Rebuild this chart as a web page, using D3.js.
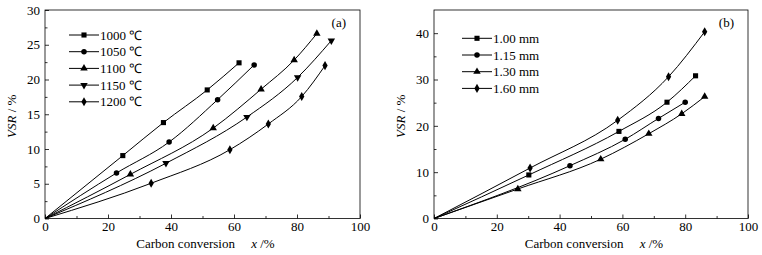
<!DOCTYPE html>
<html>
<head>
<meta charset="utf-8">
<script src="https://cdn.jsdelivr.net/npm/d3@7"></script>
<style>
  body { margin: 0; background: #fff; }
  svg text { font-family: "Liberation Serif", serif; fill: #000; }
</style>
</head>
<body>
<svg id="chart" width="762" height="255"></svg>
<script>
// Panel (a): temperature series, [carbon conversion %, VSR %]
const tempLabels = ["1000 \u2103", "1050 \u2103", "1100 \u2103", "1150 \u2103", "1200 \u2103"];
const temp1000 = [[0, 0], [24.7, 9.05], [37.6, 13.8], [51.5, 18.5], [61.6, 22.4]];
const temp1050 = [[0, 0], [22.7, 6.55], [39.4, 11.0], [54.8, 17.1], [66.4, 22.1]];
const temp1100 = [[0, 0], [27.1, 6.35], [53.4, 13.0], [68.6, 18.6], [79.1, 22.8], [86.3, 26.6]];
const temp1150 = [[0, 0], [38.4, 7.95], [64.1, 14.6], [80.2, 20.3], [90.9, 25.6]];
const temp1200 = [[0, 0], [33.7, 5.07], [58.7, 9.9], [70.9, 13.6], [81.5, 17.55], [88.9, 22.0]];

// Panel (b): particle size series
const sizeLabels = ["1.00 mm", "1.15 mm", "1.30 mm", "1.60 mm"];
const size100 = [[0, 0], [30.2, 9.4], [58.9, 18.8], [74.2, 25.1], [83.3, 30.8]];
const size115 = [[0, 0], [43.3, 11.4], [60.9, 17.1], [71.5, 21.6], [80.0, 25.1]];
const size130 = [[0, 0], [26.7, 6.37], [53.1, 12.8], [68.4, 18.3], [78.9, 22.6], [86.2, 26.3]];
const size160 = [[0, 0], [30.6, 10.9], [58.5, 21.2], [74.7, 30.6], [86.2, 40.3]];

const xTicks = [0, 20, 40, 60, 80, 100];
const yTicksA = [0, 5, 10, 15, 20, 25, 30];
const yTicksB = [0, 10, 20, 30, 40];

const svg = d3.select("#chart");

const symbols = {
  square: d3.symbol().type(d3.symbolSquare).size(26),
  circle: d3.symbol().type(d3.symbolCircle).size(24),
  up: d3.symbol().type(d3.symbolTriangle).size(24),
  down: d3.symbol().type(d3.symbolTriangle).size(24),
  diamond: d3.symbol().type(d3.symbolDiamond).size(24)
};

function marker(g, shape, x, y) {
  g.append("path")
    .attr("d", symbols[shape]())
    .attr("transform", `translate(${x},${y})` + (shape === "down" ? " rotate(180)" : ""))
    .attr("fill", "#000");
}

function drawPanel(cfg) {
  const x = d3.scaleLinear().domain([0, 100]).range([cfg.left, cfg.right]);
  const y = d3.scaleLinear().domain([0, cfg.yMax]).range([cfg.bottom, cfg.top]);
  const g = svg.append("g");

  // frame
  g.append("rect")
    .attr("x", cfg.left).attr("y", cfg.top)
    .attr("width", cfg.right - cfg.left).attr("height", cfg.bottom - cfg.top)
    .attr("fill", "none").attr("stroke", "#000").attr("stroke-width", 0.8);

  // x axis, ticks inward
  g.append("g").attr("transform", `translate(0,${cfg.bottom})`)
    .call(d3.axisBottom(x).tickValues(xTicks).tickSize(-4).tickPadding(3));
  g.append("g").attr("transform", `translate(0,${cfg.bottom})`)
    .call(d3.axisBottom(x).tickValues(d3.range(10, 100, 20)).tickSize(-2.5).tickFormat(""));

  g.append("g").attr("transform", `translate(${cfg.left},0)`)
    .call(d3.axisLeft(y).tickValues(cfg.yTicks).tickSize(-4).tickPadding(5));
  g.append("g").attr("transform", `translate(${cfg.left},0)`)
    .call(d3.axisLeft(y).tickValues(cfg.yMinor).tickSize(-2.5).tickFormat(""));

  g.selectAll(".domain").remove();
  g.selectAll(".tick line").attr("stroke", "#000").attr("stroke-width", 0.8);
  g.selectAll(".tick text").attr("font-size", 13).attr("font-family", null);

  // series
  const line = d3.line().x(d => x(d[0])).y(d => y(d[1])).curve(d3.curveMonotoneX);
  cfg.series.forEach((s, i) => {
    g.append("path").datum(s.data).attr("d", line)
      .attr("fill", "none").attr("stroke", "#000").attr("stroke-width", 1);
    s.data.slice(1).forEach(d => marker(g, s.shape, x(d[0]), y(d[1])));

    // legend
    const ly = cfg.legendY + i * 16.7;
    g.append("line").attr("x1", cfg.legendX).attr("x2", cfg.legendX + 30)
      .attr("y1", ly).attr("y2", ly).attr("stroke", "#000").attr("stroke-width", 1);
    marker(g, s.shape, cfg.legendX + 15, ly);
    g.append("text").attr("x", cfg.legendX + 31).attr("y", ly + 4.5)
      .attr("font-size", 13).text(cfg.labels[i]);
  });

  g.append("text").attr("x", cfg.right - 14).attr("y", cfg.top + 17)
    .attr("text-anchor", "end").attr("font-size", 13).text(cfg.tag);

  // axis titles
  const xt = g.append("text").attr("x", (cfg.left + cfg.right) / 2 + 3).attr("y", cfg.bottom + 29.5)
    .attr("text-anchor", "middle").attr("font-size", 13).attr("xml:space", "preserve");
  xt.append("tspan").text("Carbon conversion     ");
  xt.append("tspan").attr("font-style", "italic").text("x");
  xt.append("tspan").text(" /%");

  const yt = g.append("text")
    .attr("transform", `translate(${cfg.left - 29},${(cfg.top + cfg.bottom) / 2 + 2}) rotate(-90)`)
    .attr("text-anchor", "middle").attr("font-size", 13);
  yt.append("tspan").attr("font-style", "italic").text("VSR");
  yt.append("tspan").text(" / %");
}

drawPanel({
  left: 45, right: 360, top: 10, bottom: 218.5, yMax: 30,
  yTicks: yTicksA, yMinor: d3.range(2.5, 30, 5),
  legendX: 69, legendY: 35, labels: tempLabels, tag: "(a)",
  series: [
    { data: temp1000, shape: "square" },
    { data: temp1050, shape: "circle" },
    { data: temp1100, shape: "up" },
    { data: temp1150, shape: "down" },
    { data: temp1200, shape: "diamond" }
  ]
});

drawPanel({
  left: 434, right: 748, top: 10, bottom: 218.5, yMax: 45,
  yTicks: yTicksB, yMinor: [5, 15, 25, 35],
  legendX: 462, legendY: 38.3, labels: sizeLabels, tag: "(b)",
  series: [
    { data: size100, shape: "square" },
    { data: size115, shape: "circle" },
    { data: size130, shape: "up" },
    { data: size160, shape: "diamond" }
  ]
});
</script>
</body>
</html>
